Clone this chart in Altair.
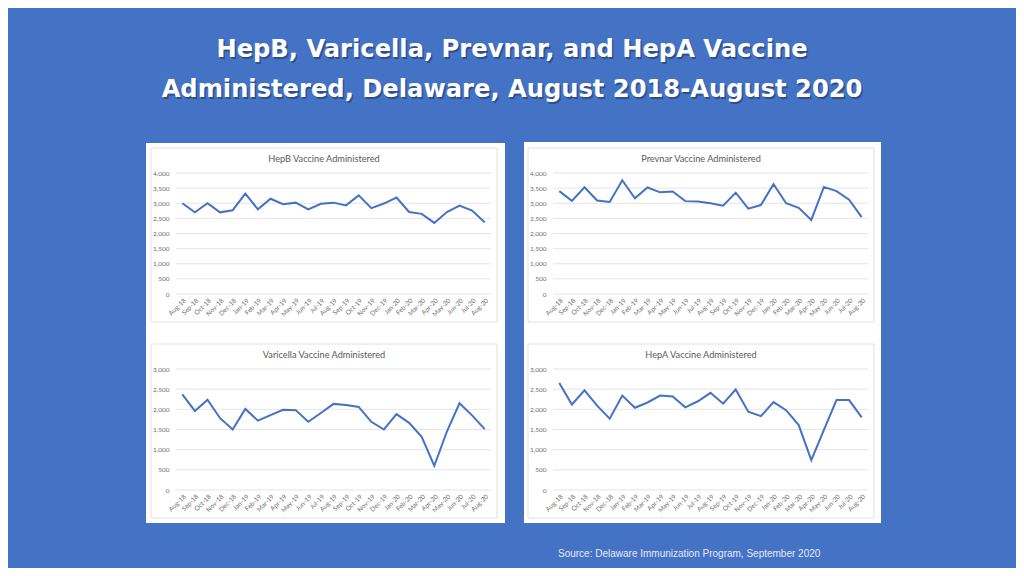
import altair as alt
import pandas as pd

# ---------------- data ----------------
months = ["Aug-18", "Sep-18", "Oct-18", "Nov-18", "Dec-18", "Jan-19", "Feb-19", "Mar-19",
          "Apr-19", "May-19", "Jun-19", "Jul-19", "Aug-19", "Sep-19", "Oct-19", "Nov-19",
          "Dec-19", "Jan-20", "Feb-20", "Mar-20", "Apr-20", "May-20", "Jun-20", "Jul-20", "Aug-20"]

hepb = [3000, 2700, 3000, 2700, 2770, 3320, 2800, 3150, 2970, 3020, 2800, 2980, 3020,
        2930, 3260, 2840, 2990, 3190, 2710, 2650, 2350, 2710, 2920, 2760, 2370]
prevnar = [3400, 3080, 3530, 3090, 3040, 3760, 3165, 3520, 3360, 3390, 3070, 3060, 3000,
           2920, 3350, 2820, 2940, 3630, 3000, 2850, 2450, 3540, 3400, 3120, 2540]
varicella = [2370, 1960, 2240, 1780, 1500, 2010, 1720, 1855, 1990, 1980, 1690, 1910, 2135,
             2110, 2060, 1690, 1500, 1880, 1665, 1320, 600, 1450, 2150, 1850, 1510]
hepa = [2650, 2120, 2470, 2090, 1770, 2340, 2040, 2170, 2340, 2320, 2050, 2200, 2410,
        2140, 2490, 1940, 1830, 2180, 1980, 1610, 740, 1490, 2230, 2230, 1800]

panel_titles = ["HepB Vaccine Administered", "Prevnar Vaccine Administered",
                "Varicella Vaccine Administered", "HepA Vaccine Administered"]
panel_max = [4000, 4000, 3000, 3000]
main_title = ["HepB, Varicella, Prevnar, and HepA Vaccine",
              "Administered, Delaware, August 2018-August 2020"]
source_note = ["Source:  Delaware Immunization Program, September 2020"]

# ---------------- style ----------------
BG = "#4472C4"
LINE = "#4472C4"
GRID = "#dedede"
LABEL = "#6f6f6f"
W, H = 315, 121


def one():
    return pd.DataFrame({"k": [0]})


def box(x1, x2, y1, y2, **mark):
    return alt.Chart(one()).mark_rect(**mark).encode(
        x=alt.value(x1), x2=alt.value(x2), y=alt.value(y1), y2=alt.value(y2))


def panel(title, values, ymax, extra=()):
    df = pd.DataFrame({"month": months, "value": values})
    ticks = list(range(0, ymax + 1, 500))
    yscale = alt.Scale(domain=[0, ymax], nice=False, zero=True)
    xscale = alt.Scale(type="point", padding=0.5)
    yaxis = alt.Axis(title=None, values=ticks, format=",.0f", labelFontSize=6.5,
                     labelColor=LABEL, labelFont="Lato", ticks=False,
                     domain=False, grid=False, labelPadding=7, zindex=1)
    xaxis = alt.Axis(title=None, labelAngle=-45, labelFontSize=6.5,
                     labelColor=LABEL, labelFont="Lato", ticks=False,
                     domain=False, grid=False, labelPadding=3, zindex=1)

    grid = alt.Chart(pd.DataFrame({"g": ticks})).mark_rule(
        color=GRID, strokeWidth=0.8).encode(
        y=alt.Y("g:Q", scale=yscale, axis=yaxis),
        x=alt.value(0), x2=alt.value(W))

    line = alt.Chart(df).mark_line(color=LINE, strokeWidth=2).encode(
        x=alt.X("month:N", sort=months, scale=xscale, axis=xaxis),
        y=alt.Y("value:Q", scale=yscale, axis=yaxis))

    border = box(-25, 321, -25, 149, fill="white", fillOpacity=0,
                 stroke="#d9d9d9", strokeWidth=0.8)

    ttl = alt.Chart(pd.DataFrame({"t": [title]})).mark_text(
        font="Lato", fontSize=9.2, color="#595959", baseline="middle", align="center").encode(
        x=alt.value(148), y=alt.value(-14), text="t:N")

    return alt.layer(*extra, border, grid, line, ttl).properties(width=W, height=H)


# background and slide texts, drawn inside the first panel (coordinates relative to its plot)
bg_layers = [
    box(-168, 840, -165, 395, fill=BG),
    box(-30, 329, -30, 350, fill="white"),
    box(348, 705, -31, 350, fill="white"),
]
for dx, col, op in [(1.5, "#1d3461", 0.55), (0, "white", 1)]:
    for i, t in enumerate(main_title):
        bg_layers.append(
            alt.Chart(pd.DataFrame({"t": [t]})).mark_text(
                font="DejaVu Sans", fontWeight="bold", fontSize=24.2, color=col, opacity=op,
                align="center", baseline="alphabetic").encode(
                x=alt.value(336 + dx), y=alt.value(-116 + 40 * i + dx), text="t:N"))
bg_layers.append(
    alt.Chart(pd.DataFrame({"t": source_note})).mark_text(
        font="Liberation Sans", fontSize=10, color="#e4eaf5", align="left",
        baseline="middle").encode(x=alt.value(382), y=alt.value(381), text="t:N"))

series = [hepb, prevnar, varicella, hepa]
panels = []
for i, (t, v, m) in enumerate(zip(panel_titles, series, panel_max)):
    panels.append(panel(t, v, m, extra=bg_layers if i == 0 else ()))

chart = alt.concat(*panels, columns=2, spacing={"row": 75, "column": 62},
                   bounds="flush").properties(
    padding=0, background=BG).configure_view(strokeWidth=0)

chart.save("out.html", embed_options={"renderer": "svg", "actions": False})
